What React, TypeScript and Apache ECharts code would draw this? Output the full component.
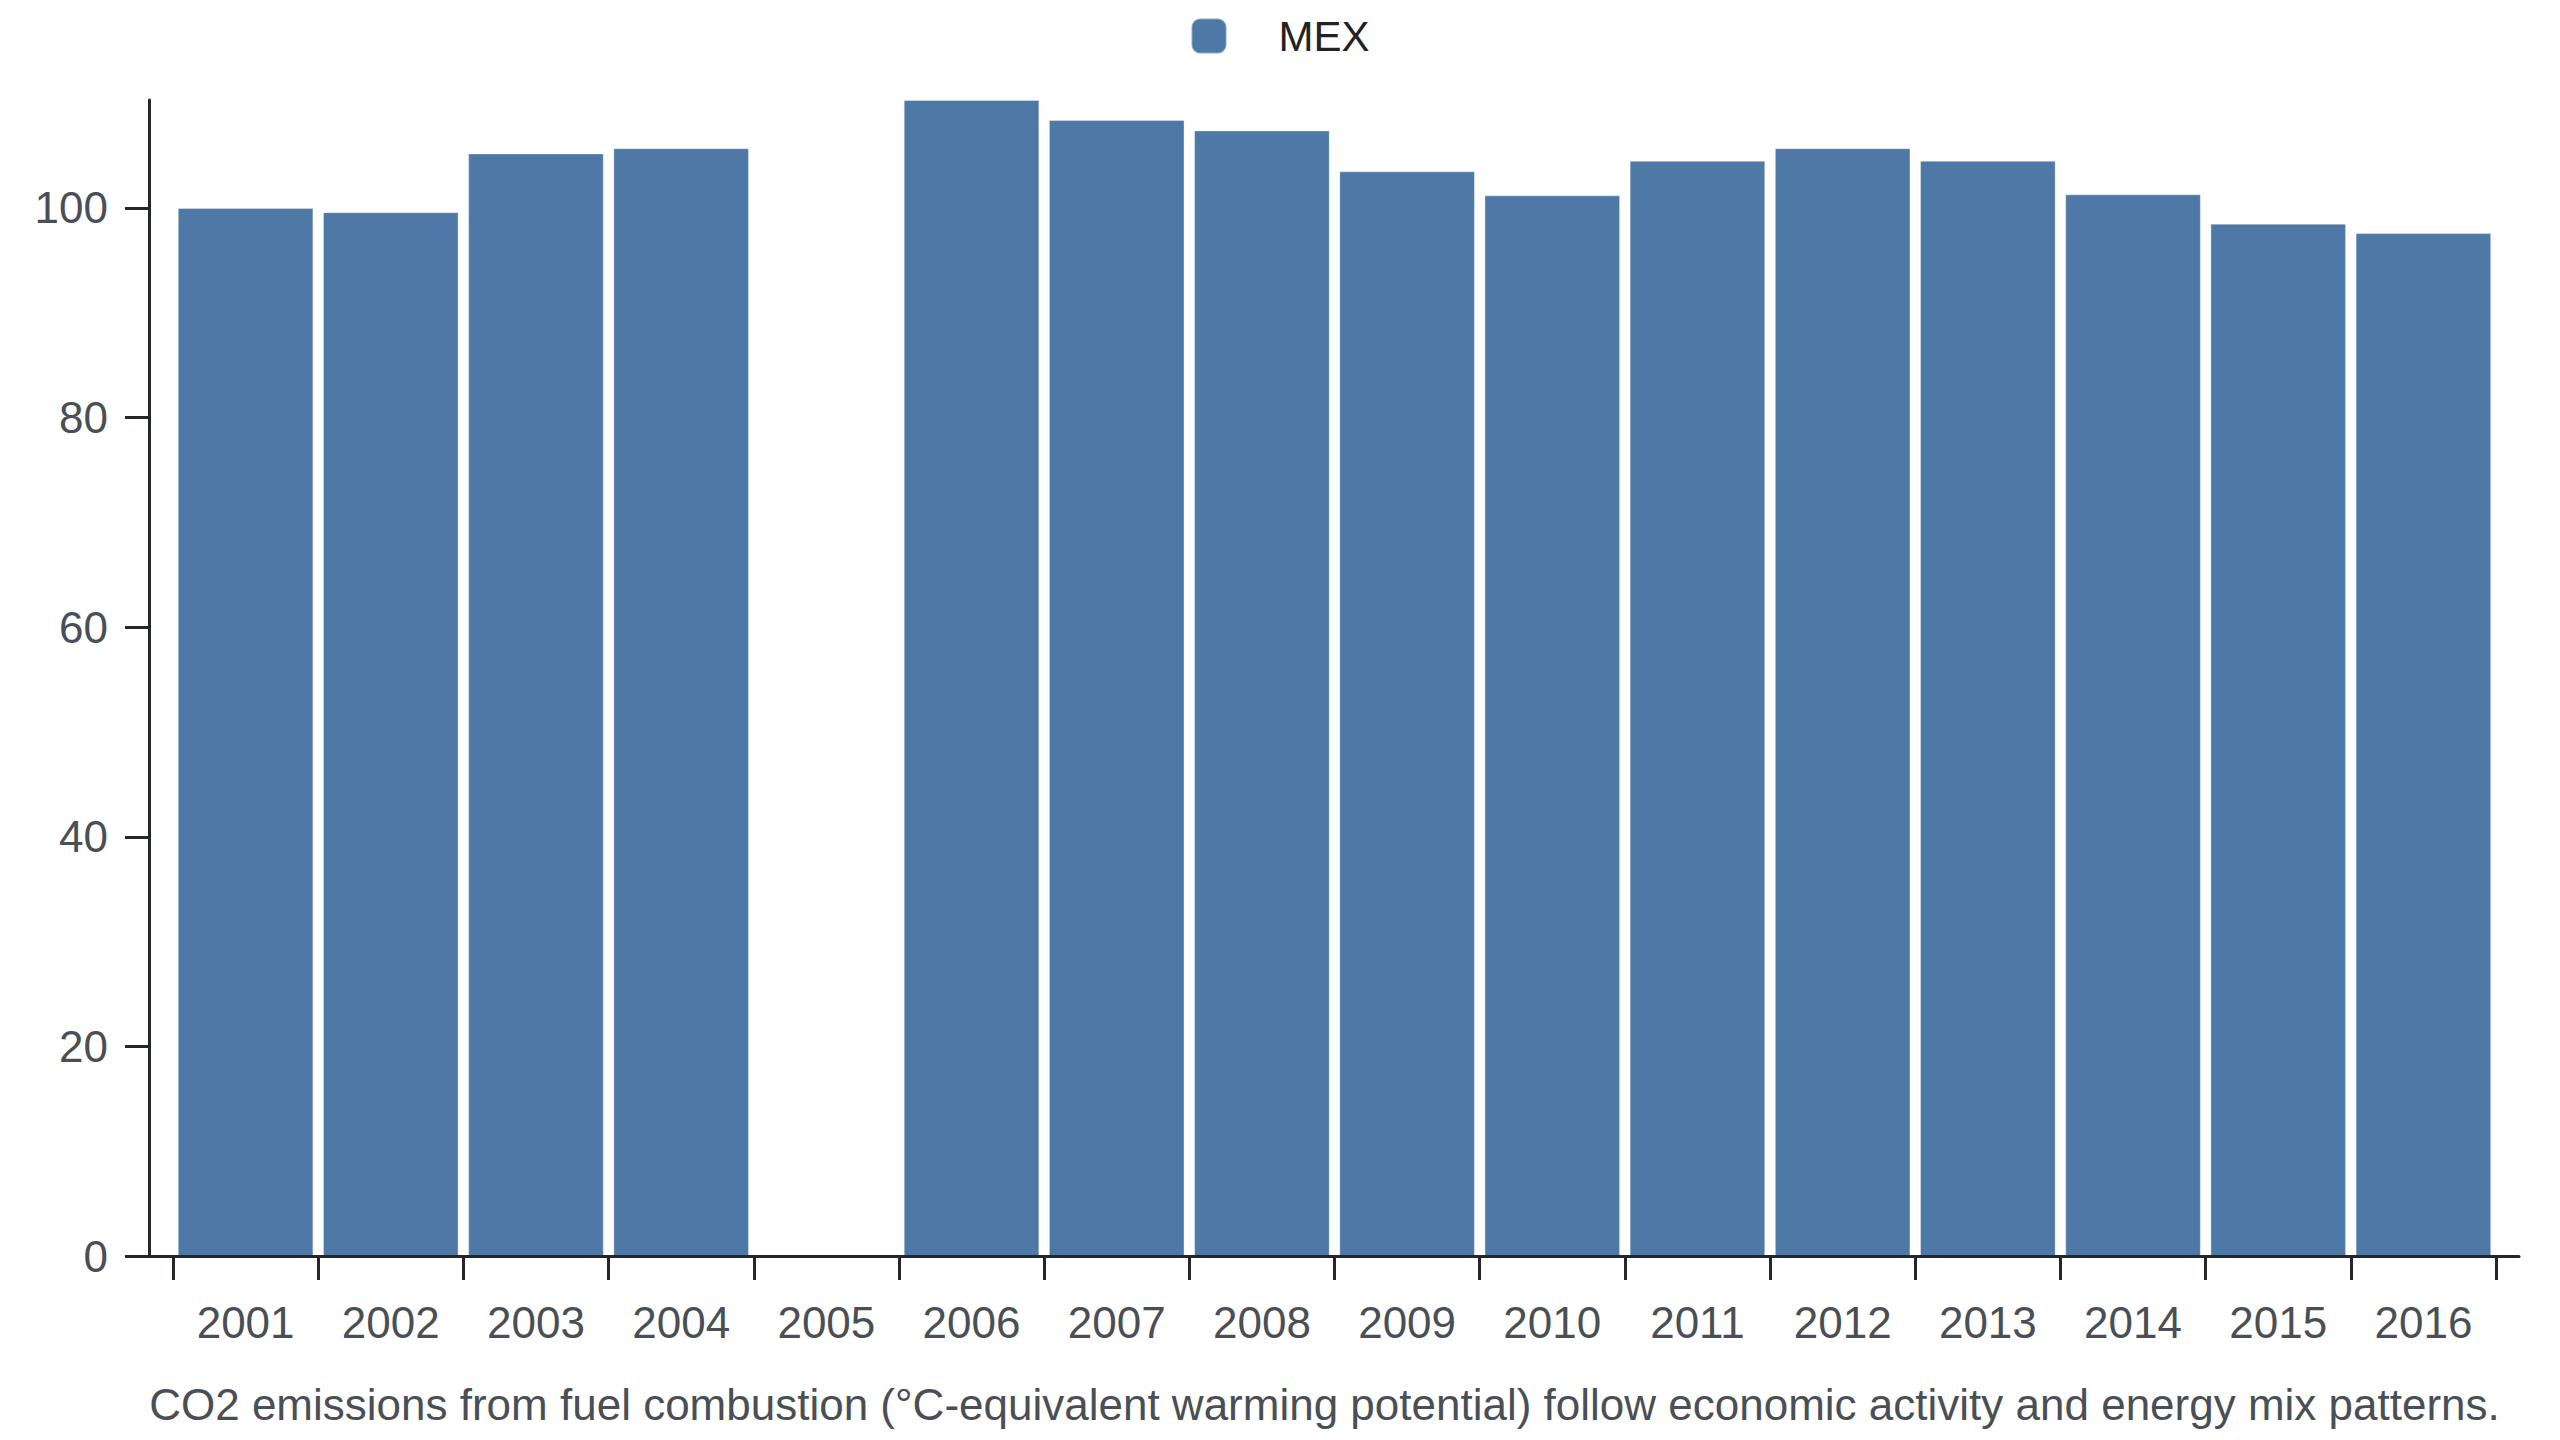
import { useEffect, useRef } from 'react';
import * as echarts from 'echarts';

const years = ['2001', '2002', '2003', '2004', '2005', '2006', '2007', '2008', '2009', '2010', '2011', '2012', '2013', '2014', '2015', '2016'];
const mexValues = [100.0, 99.6, 105.2, 105.7, null, 110.3, 108.4, 107.4, 103.5, 101.2, 104.5, 105.7, 104.5, 101.3, 98.5, 97.6];
const yTicks = [0, 20, 40, 60, 80, 100];
const seriesName = 'MEX';
const caption = 'CO2 emissions from fuel combustion (°C-equivalent warming potential) follow economic activity and energy mix patterns.';

const FONT = '"Liberation Sans", Arial, sans-serif';
const AXIS_COLOR = '#23272b';
const LABEL_COLOR = '#4a4f55';

export default function App() {
  const chartRef = useRef<HTMLDivElement>(null);

  useEffect(() => {
    document.body.style.margin = '0';
    if (!chartRef.current) return;
    const chart = echarts.init(chartRef.current, undefined, { renderer: 'svg' });

    const option: echarts.EChartsOption = {
      animation: false,
      backgroundColor: '#ffffff',
      textStyle: { fontFamily: FONT },
      legend: {
        data: [seriesName],
        top: 15,
        left: 'center',
        padding: 0,
        icon: 'roundRect',
        itemWidth: 35,
        itemHeight: 35,
        formatter: '{a|{name}}',
        textStyle: {
          rich: {
            a: {
              fontFamily: FONT,
              fontSize: 42,
              color: '#222222',
              padding: [0, 0, 0, 47],
            },
          },
        },
      },
      grid: [
        { left: 173, right: 64, top: 100, bottom: 184 },
        { left: 149, right: 41, top: 100, bottom: 184 },
      ],
      xAxis: [
        {
          type: 'category',
          data: years,
          gridIndex: 0,
          boundaryGap: true,
          axisLine: { show: false },
          axisTick: {
            show: true,
            length: 24,
            lineStyle: { color: AXIS_COLOR, width: 3 },
          },
          axisLabel: {
            fontFamily: FONT,
            fontSize: 44,
            color: LABEL_COLOR,
            margin: 44,
          },
          name: caption,
          nameLocation: 'middle',
          nameGap: 126,
          nameTextStyle: {
            fontFamily: FONT,
            fontSize: 44,
            color: LABEL_COLOR,
            padding: [0, 20, 0, 0],
          },
        },
        {
          type: 'value',
          gridIndex: 1,
          min: 0,
          max: 1,
          position: 'bottom',
          z: 10,
          axisLine: { show: true, onZero: false, lineStyle: { color: AXIS_COLOR, width: 3 } },
          axisTick: { show: false },
          axisLabel: { show: false },
          splitLine: { show: false },
        },
      ],
      yAxis: [
        {
          type: 'value',
          gridIndex: 0,
          min: 0,
          max: 'dataMax',
          offset: 24,
          axisLine: { show: true, lineStyle: { color: AXIS_COLOR, width: 3 } },
          axisTick: {
            show: true,
            length: 24,
            customValues: yTicks,
            lineStyle: { color: AXIS_COLOR, width: 3 },
          },
          axisLabel: {
            customValues: yTicks,
            fontFamily: FONT,
            fontSize: 44,
            color: LABEL_COLOR,
            margin: 41,
          },
          splitLine: { show: false },
        },
        {
          type: 'value',
          gridIndex: 1,
          show: false,
          min: 0,
          max: 1,
        },
      ],
      series: [
        {
          name: seriesName,
          type: 'bar',
          xAxisIndex: 0,
          yAxisIndex: 0,
          data: mexValues,
          barCategoryGap: '6.6%',
          itemStyle: {
            color: '#4e79a7',
            borderColor: 'rgba(255,255,255,0.35)',
            borderWidth: 1,
          },
        },
      ],
    };

    chart.setOption(option);

    return () => {
      chart.dispose();
    };
  }, []);

  return <div ref={chartRef} style={{ width: '2560px', height: '1440px' }} />;
}
